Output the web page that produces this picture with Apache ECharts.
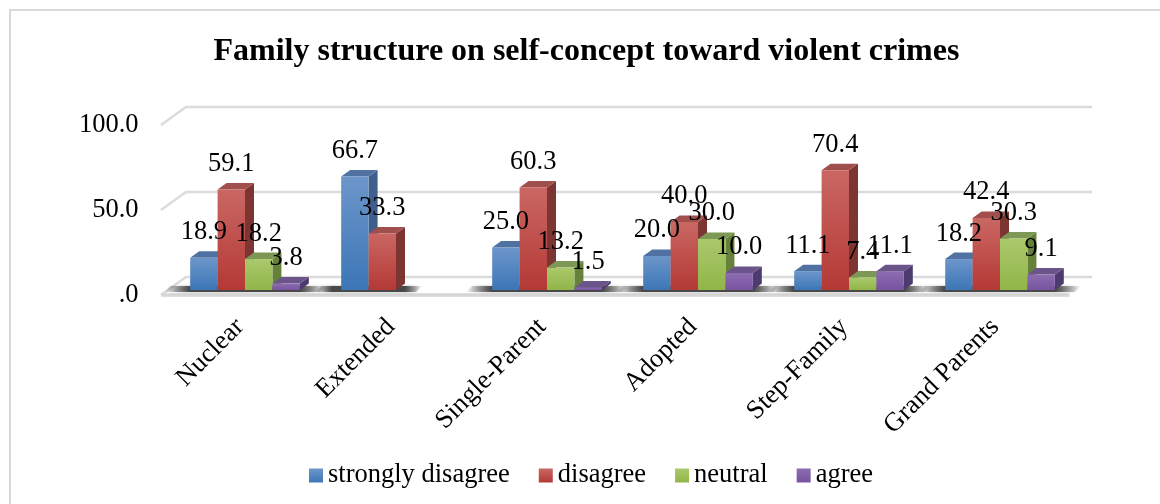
<!DOCTYPE html>
<html>
<head>
<meta charset="utf-8">
<style>html,body{margin:0;padding:0;background:#fff}#c{width:1160px;height:504px}</style>
<script src="https://cdn.jsdelivr.net/npm/echarts@6/dist/echarts.min.js"></script>
</head>
<body>
<div id="c"></div>
<script>
const categories = ['Nuclear','Extended','Single-Parent','Adopted','Step-Family','Grand Parents'];
const stronglyDisagree = [18.9,66.7,25.0,20.0,11.1,18.2];
const disagree = [59.1,33.3,60.3,40.0,70.4,42.4];
const neutral = [18.2,null,13.2,30.0,7.4,30.3];
const agree = [3.8,null,1.5,10.0,11.1,9.1];
const tickValues = [0,50,100];
const seriesNames = ['strongly disagree','disagree','neutral','agree'];
const seriesValues = [stronglyDisagree,disagree,neutral,agree];
const FONT = '"Liberation Serif","Times New Roman",serif';
const frontTop = ['#6c96ca','#ca6763','#aac96c','#8c6db0'];
const frontBottom = ['#3c76b6','#b43935','#91b548','#7853a0'];
const sideColor = ['#3e5f8c','#7d3532','#66813a','#4d3a6e'];
const topColor = ['#4f72a2','#a04f4c','#7d9755','#6b5489'];
const DX = 9, DY = 6.5, BAR_SHARE = 0.1815;

function grad(a,b){return new echarts.graphic.LinearGradient(0,0,0,1,[{offset:0,color:a},{offset:1,color:b}]);}
const shadowFill = new echarts.graphic.LinearGradient(0,0,1,0,[
  {offset:0,color:'rgba(70,70,70,0)'},{offset:0.16,color:'rgba(60,60,60,0.9)'},
  {offset:0.84,color:'rgba(60,60,60,0.9)'},{offset:1,color:'rgba(70,70,70,0)'}]);

const series = [];
series.push({
  type:'custom', name:'walls', silent:true, z:1, clip:false,
  data: tickValues.map(v=>[v]),
  renderItem(params,api){
    const cs = params.coordSys;
    const y = api.coord([0,api.value(0)])[1];
    const x0 = cs.x-8.5, x1 = cs.x+16.5, x2 = cs.x+cs.width+16.5;
    const children = [{type:'polyline',shape:{points:[[x0,y+5],[x1,y-13],[x2,y-13]]},style:{fill:null,stroke:'#dcdcdc',lineWidth:2.5}}];
    if(api.value(0)===0){
      children.push({type:'line',shape:{x1:x0,y1:y+5,x2:cs.x+cs.width-6,y2:y+5},style:{stroke:'#d6d6d6',lineWidth:3.5}});
    }
    return {type:'group',children};
  }
});
series.push({
  type:'custom', name:'floorShadow', silent:true, z:2, clip:false,
  data: categories.map((c,i)=>[i,seriesValues.filter(a=>a[i]!==null).length]),
  renderItem(params,api){
    const p = api.coord([api.value(0),0]);
    const w = api.size([1,0])[0]*BAR_SHARE;
    const L = p[0]-2*w, R = L+api.value(1)*w;
    return {type:'polygon',
      shape:{points:[[L-26,p[1]+2],[R+20,p[1]+2],[R+26,p[1]-4],[L-20,p[1]-4]]},
      style:{fill:shadowFill,shadowBlur:3,shadowColor:'rgba(70,70,70,0.5)'}};
  }
});
seriesValues.forEach((vals,s)=>{
  series.push({
    type:'custom', name:seriesNames[s]+' depth', silent:true, z:3, clip:false,
    data: vals.map((v,i)=>[i,v===null?'-':v]),
    renderItem(params,api){
      const v = api.value(1);
      if(isNaN(v)) return null;
      const p = api.coord([api.value(0),v]);
      const b = api.coord([api.value(0),0]);
      const w = api.size([1,0])[0]*BAR_SHARE;
      const L = p[0]+(s-2)*w, R = L+w;
      return {type:'group',children:[
        {type:'polygon',shape:{points:[[R,p[1]],[R+DX,p[1]-DY],[R+DX,b[1]-DY],[R,b[1]]]},style:{fill:sideColor[s]}},
        {type:'polygon',shape:{points:[[L,p[1]],[L+DX,p[1]-DY],[R+DX,p[1]-DY],[R,p[1]]]},style:{fill:topColor[s]}}
      ]};
    }
  });
});
seriesValues.forEach((vals,s)=>{
  series.push({
    type:'bar', name:seriesNames[s], z:4, barGap:0, barCategoryGap:'27.4%',
    data: vals,
    itemStyle:{color:grad(frontTop[s],frontBottom[s])},
    label:{show:true,position:'top',distance:12,fontFamily:FONT,fontSize:26.5,color:'#000',
      formatter:p=>p.value.toFixed(1)}
  });
});

const chart = echarts.init(document.getElementById('c'),null,{renderer:'canvas'});
chart.setOption({
  animation:false,
  backgroundColor:'#fff',
  title:{text:'Family structure on self-concept toward violent crimes',left:208.5,top:31,
    textStyle:{fontFamily:FONT,fontSize:32,fontWeight:'bold',color:'#000'}},
  legend:{data:seriesNames,left:304,top:457,itemWidth:14,itemHeight:14,itemGap:29,icon:'rect',
    textStyle:{fontFamily:FONT,fontSize:26.5,color:'#000'}},
  grid:{left:169.5,right:84.5,top:120,bottom:214},
  xAxis:{type:'category',data:categories,axisLine:{show:false},axisTick:{show:false},
    axisLabel:{rotate:45,interval:0,margin:28,fontFamily:FONT,fontSize:26.5,color:'#000',padding:[0,7,0,0]}},
  yAxis:{type:'value',min:0,max:100,interval:50,axisLine:{show:false},axisTick:{show:false},splitLine:{show:false},
    axisLabel:{margin:31,fontFamily:FONT,fontSize:26.5,color:'#000',verticalAlign:'top',lineHeight:10,
      formatter:v=>v===0?'.0':v.toFixed(1)}},
  graphic:[
    {type:'polyline',silent:true,shape:{points:[[1160,10],[10,10],[10,504]]},style:{fill:null,stroke:'#d9d9d9',lineWidth:2}}
  ],
  series
});
</script>
</body>
</html>
